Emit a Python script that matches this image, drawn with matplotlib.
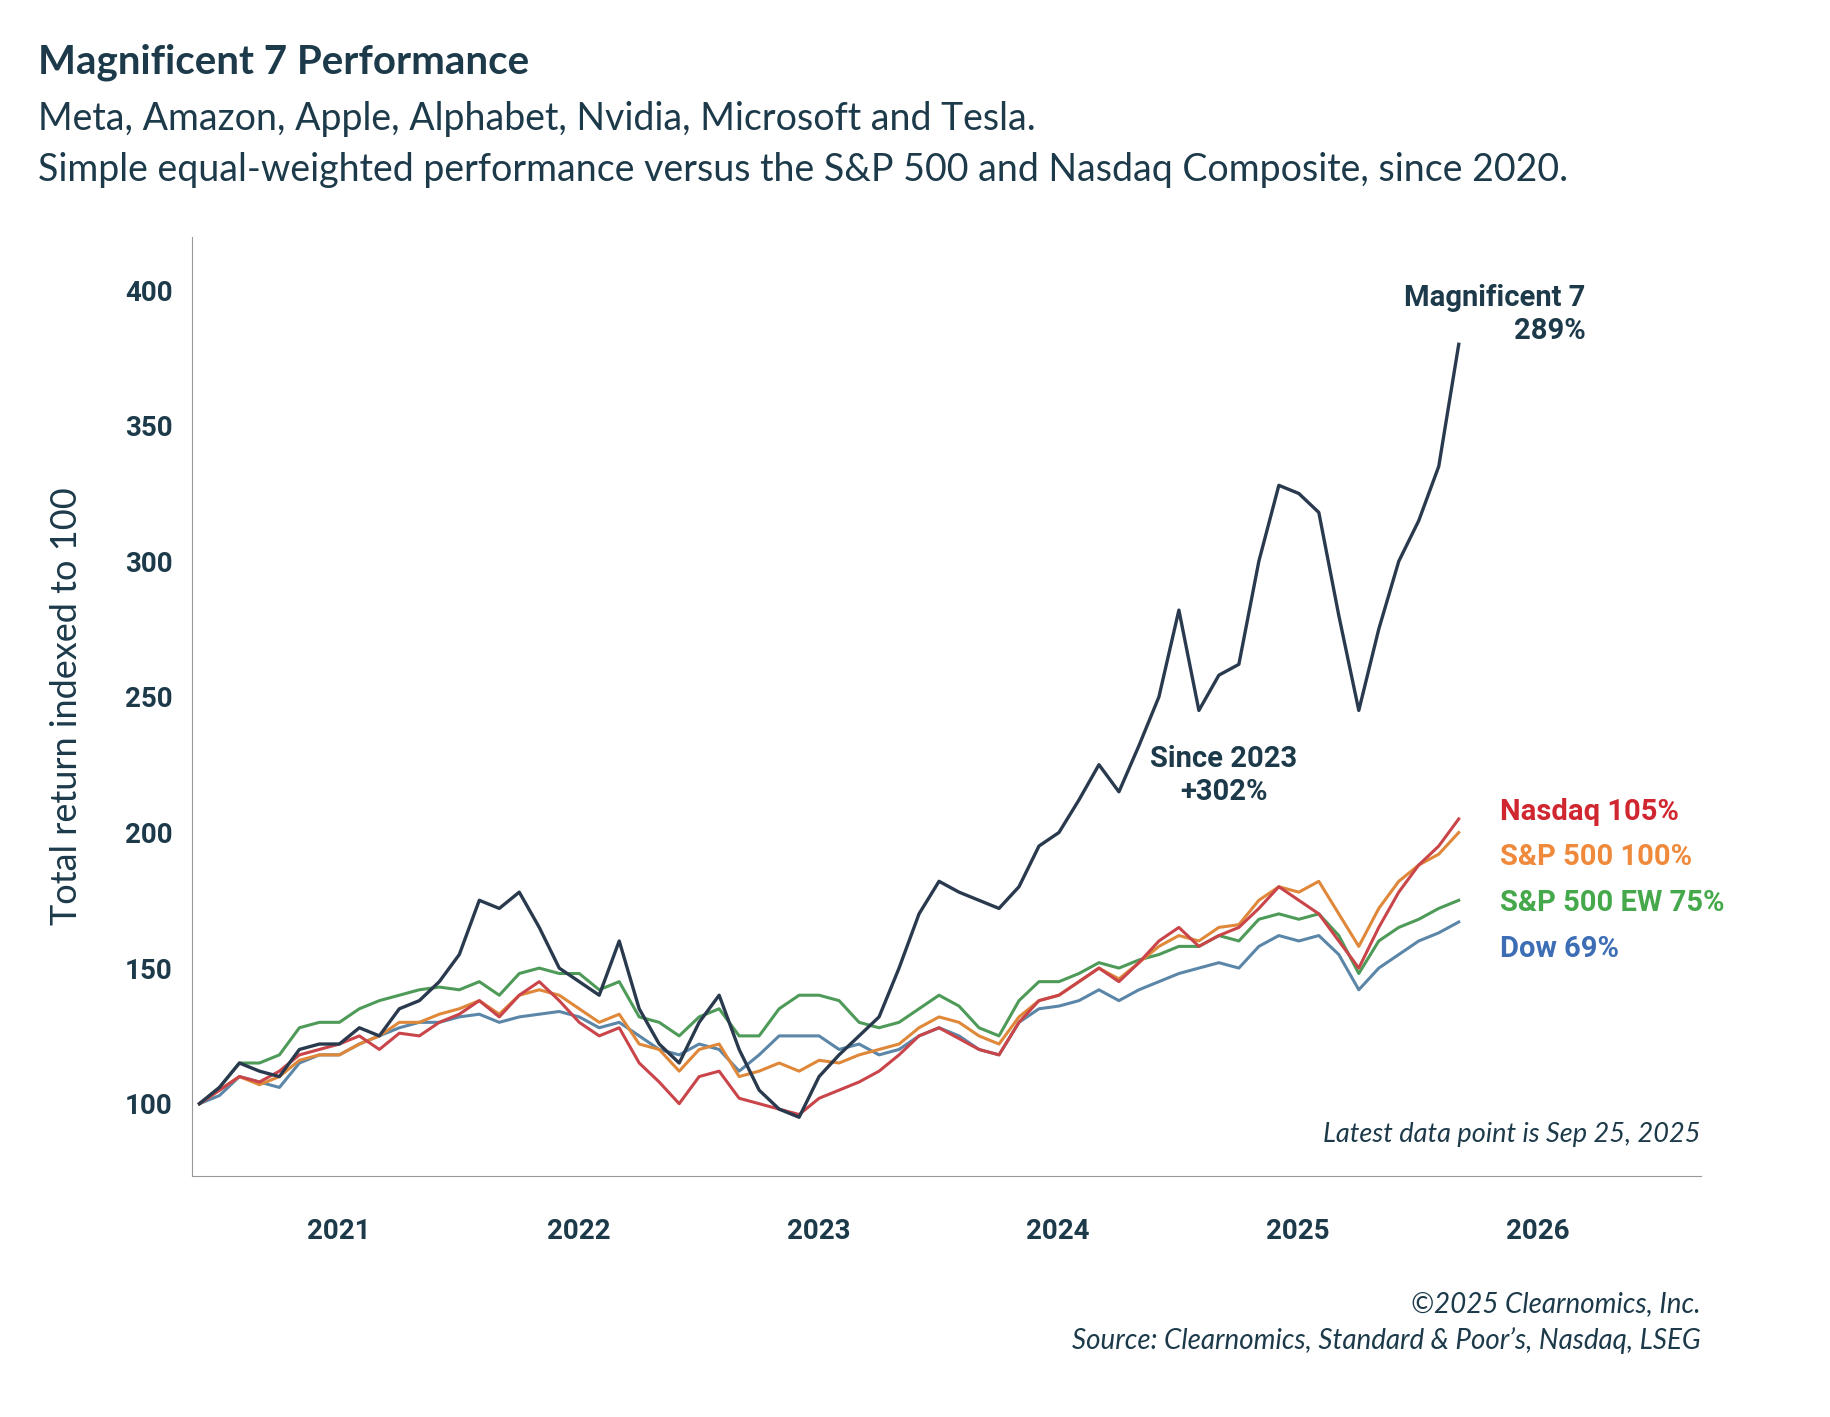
import matplotlib
matplotlib.use("Agg")
import matplotlib.pyplot as plt
import numpy as np

start_year = 2020.42
mag7 = [100,106,115,112,110,120,122,
        122,128,125,135,138,145,155,175,172,178,165,150,
        145,140,160,135,122,115,130,140,120,105,98,95,
        110,118,125,132,150,170,182,178,175,172,180,195,
        200,212,225,215,232,250,282,245,258,262,300,328,
        325,318,280,245,275,300,315,335,380]
nasdaq = [100,105,110,108,112,118,120,
          122,125,120,126,125,130,133,138,132,140,145,138,
          130,125,128,115,108,100,110,112,102,100,98,96,
          102,105,108,112,118,125,128,124,120,118,130,138,
          140,145,150,145,152,160,165,158,162,165,172,180,
          175,170,160,150,165,178,188,195,205]
sp500 = [100,105,110,107,110,116,118,
         118,122,125,130,130,133,135,138,133,140,142,140,
         135,130,133,122,120,112,120,122,110,112,115,112,
         116,115,118,120,122,128,132,130,125,122,132,138,
         140,145,150,146,152,158,162,160,165,166,175,180,
         178,182,170,158,172,182,188,192,200]
sp500ew = [100,106,115,115,118,128,130,
           130,135,138,140,142,143,142,145,140,148,150,148,
           148,142,145,132,130,125,132,135,125,125,135,140,
           140,138,130,128,130,135,140,136,128,125,138,145,
           145,148,152,150,153,155,158,158,162,160,168,170,
           168,170,162,148,160,165,168,172,175]
dow = [100,103,110,108,106,115,118,
       118,122,125,128,130,130,132,133,130,132,133,134,
       132,128,130,125,120,118,122,120,112,118,125,125,
       125,120,122,118,120,125,128,125,120,118,130,135,
       136,138,142,138,142,145,148,150,152,150,158,162,
       160,162,155,142,150,155,160,163,167]
years = [2021, 2022, 2023, 2024, 2025, 2026]
yticks = [100, 150, 200, 250, 300, 350, 400]

x = start_year + np.arange(len(mag7)) / 12.0

navy = "#1c3a4a"
fig = plt.figure(figsize=(18.31, 14.17), dpi=100)
ax = fig.add_axes([0.105, 0.170, 0.824, 0.663])

ax.plot(x, dow, color="#5b86a8", lw=2.2)
ax.plot(x, sp500ew, color="#4e9a58", lw=2.2)
ax.plot(x, sp500, color="#e0883a", lw=2.2)
ax.plot(x, nasdaq, color="#c9454a", lw=2.2)
ax.plot(x, mag7, color="#2a3a4e", lw=2.4)

ax.set_xlim(2020.39, 2026.68)
ax.set_ylim(73.3, 419.7)
ax.set_xticks(years)
ax.set_xticklabels([str(y) for y in years], fontsize=20, fontweight="bold", color=navy, family="Roboto")
ax.set_yticks(yticks)
ax.set_yticklabels([str(v) for v in yticks], fontsize=20, fontweight="bold", color=navy, family="Roboto")
ax.tick_params(length=0, pad=14)
ax.tick_params(axis="x", pad=30)
for s in ["top", "right"]:
    ax.spines[s].set_visible(False)
for s in ["left", "bottom"]:
    ax.spines[s].set_color("#999999")
ax.set_ylabel("Total return indexed to 100", fontsize=26, color=navy, family="Lato", labelpad=30)

lab = dict(fontsize=21, fontweight="bold", family="Roboto")
ax.text(2026.2, 391, "Magnificent 7\n289%", ha="right", va="center", color=navy, **lab)
ax.text(2024.69, 221, "Since 2023\n+302%", ha="center", va="center", color=navy, **lab)
ax.text(2025.84, 207.6, "Nasdaq 105%", ha="left", va="center", color="#d0262f", **lab)
ax.text(2025.84, 191, "S&P 500 100%", ha="left", va="center", color="#ef8a3c", **lab)
ax.text(2025.84, 174, "S&P 500 EW 75%", ha="left", va="center", color="#45a84a", **lab)
ax.text(2025.84, 157, "Dow 69%", ha="left", va="center", color="#3c6db5", **lab)
ax.text(2026.68, 88.6, "Latest data point is Sep 25, 2025", ha="right", va="center",
        fontsize=19.5, style="italic", color=navy, family="Lato")

fig.text(0.021, 0.956, "Magnificent 7 Performance", fontsize=29, fontweight="bold", color=navy, family="Lato", va="center")
fig.text(0.021, 0.916, "Meta, Amazon, Apple, Alphabet, Nvidia, Microsoft and Tesla.", fontsize=27, color=navy, family="Lato", va="center")
fig.text(0.021, 0.880, "Simple equal-weighted performance versus the S&P 500 and Nasdaq Composite, since 2020.", fontsize=27, color=navy, family="Lato", va="center")
fig.text(0.929, 0.080, "©2025 Clearnomics, Inc.", fontsize=20, style="italic", color=navy, family="Lato", ha="right", va="center")
fig.text(0.929, 0.054, "Source: Clearnomics, Standard & Poor’s, Nasdaq, LSEG", fontsize=20, style="italic", color=navy, family="Lato", ha="right", va="center")

fig.savefig("out.png", dpi=100)
